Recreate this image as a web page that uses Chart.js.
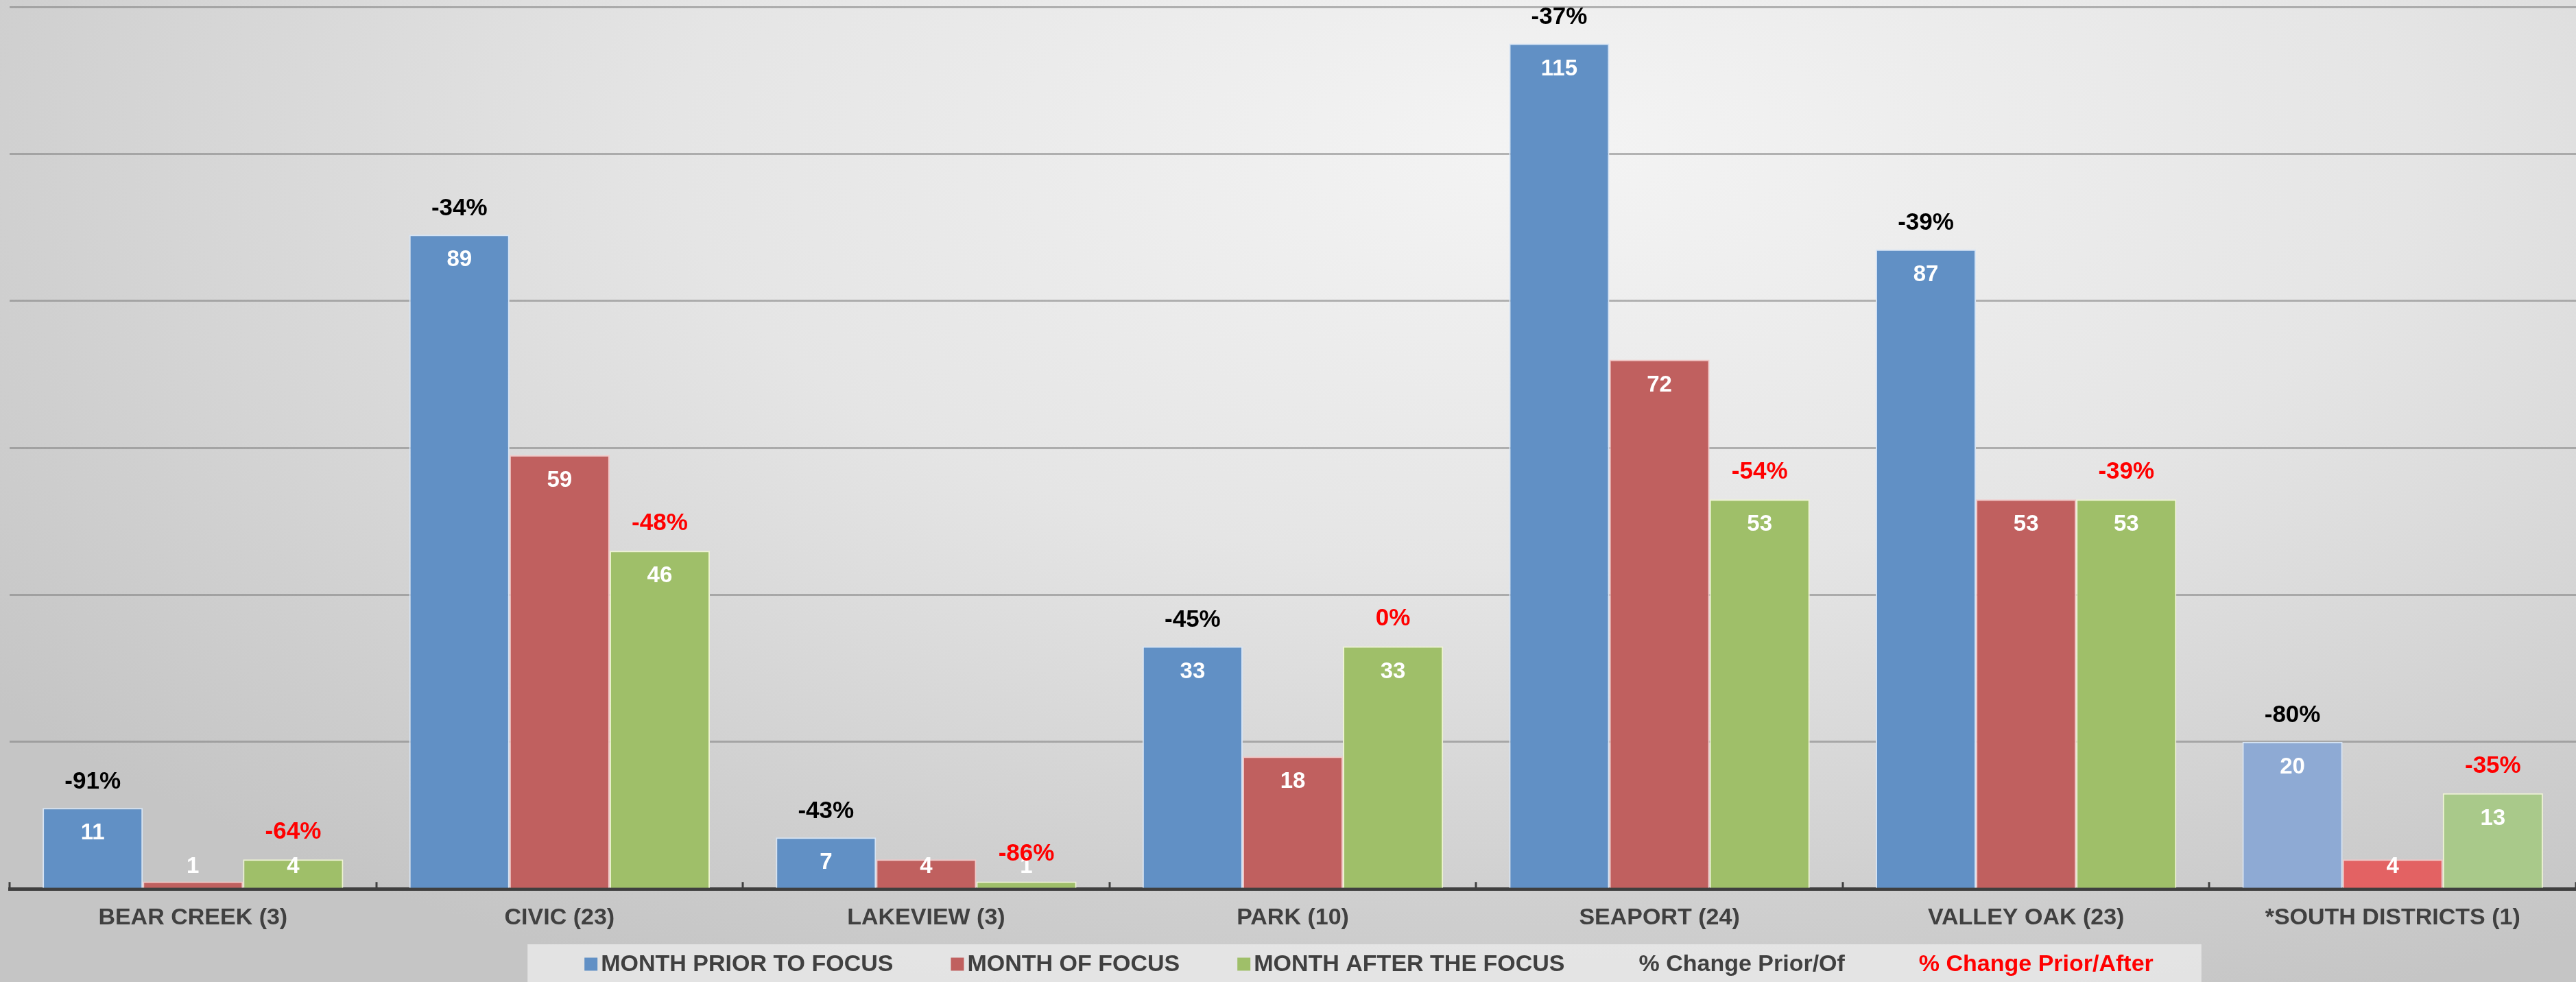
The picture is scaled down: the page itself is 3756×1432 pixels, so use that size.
<!DOCTYPE html>
<html lang="en">
<head>
    <meta charset="UTF-8">
    <title>Month of Focus Comparison</title>
    <style>
        html, body {
            margin: 0;
            padding: 0;
        }

        body {
            width: 3756px;
            height: 1432px;
            overflow: hidden;
            background: radial-gradient(ellipse 75% 95% at 60% 15%, #f4f4f4 0%, #e5e5e5 45%, #d0d0d0 80%, #c5c5c5 100%);
            font-family: 'Liberation Sans', Arial, sans-serif;
        }

        .chart-box {
            position: relative;
            width: 3756px;
            height: 1432px;
        }
    </style>
</head>
<body>
    <div class="chart-box">
        <canvas id="focusChart"></canvas>
    </div>

<script src="https://cdn.jsdelivr.net/npm/chart.js"></script>
<script>
    // data
    const districts = ['BEAR CREEK (3)', 'CIVIC (23)', 'LAKEVIEW (3)', 'PARK (10)', 'SEAPORT (24)', 'VALLEY OAK (23)', '*SOUTH DISTRICTS (1)'];
    const monthPrior = [11, 89, 7, 33, 115, 87, 20];
    const monthOf = [1, 59, 4, 18, 72, 53, 4];
    const monthAfter = [4, 46, 1, 33, 53, 53, 13];
    const changePriorOf = [-91, -34, -43, -45, -37, -39, -80];
    const changePriorAfter = [-64, -48, -86, 0, -54, -39, -35];
    const yTicks = [0, 20, 40, 60, 80, 100, 120];

    const FONT = '"Liberation Sans", Arial, sans-serif';

    // last group (south districts) is drawn in lighter shades
    const blueFill = ['#6190c5', '#6190c5', '#6190c5', '#6190c5', '#6190c5', '#6190c5', '#8eaad4'];
    const redFill = ['#c0605f', '#c0605f', '#c0605f', '#c0605f', '#c0605f', '#c0605f', '#e36263'];
    const greenFill = ['#9fbf69', '#9fbf69', '#9fbf69', '#9fbf69', '#9fbf69', '#9fbf69', '#a9c98a'];

    const legendItems = [
        { text: 'MONTH PRIOR TO FOCUS', box: '#6190c5', color: '#404040' },
        { text: 'MONTH OF FOCUS', box: '#c0605f', color: '#404040' },
        { text: 'MONTH AFTER THE FOCUS', box: '#9fbf69', color: '#404040' },
        { text: '% Change Prior/Of', box: null, color: '#404040' },
        { text: '% Change Prior/After', box: null, color: '#ff0000' }
    ];

    // white value labels inside the bars + percent labels above
    const barLabels = {
        id: 'barLabels',
        afterDatasetsDraw(chart) {
            const ctx = chart.ctx;
            const bottom = chart.chartArea.bottom;
            ctx.save();
            ctx.textAlign = 'center';
            ctx.textBaseline = 'middle';
            ctx.font = 'bold 33px ' + FONT;
            ctx.fillStyle = '#ffffff';
            chart.data.datasets.forEach((ds, di) => {
                chart.getDatasetMeta(di).data.forEach((bar, i) => {
                    const y = Math.min(bar.y + 37, bottom - 32);
                    ctx.fillText(String(ds.data[i]), bar.x, y);
                });
            });

            ctx.font = 'bold 35px ' + FONT;
            const prior = chart.getDatasetMeta(0).data;
            const after = chart.getDatasetMeta(2).data;
            ctx.fillStyle = '#000000';
            changePriorOf.forEach((v, i) => {
                ctx.fillText(v + '%', prior[i].x, prior[i].y - 38);
            });
            ctx.fillStyle = '#ff0000';
            changePriorAfter.forEach((v, i) => {
                ctx.fillText(v + '%', after[i].x, after[i].y - 40);
            });
            ctx.restore();
        }
    };

    // small tick marks pointing up between categories
    const tickMarks = {
        id: 'tickMarks',
        afterDraw(chart) {
            const ctx = chart.ctx;
            const xs = chart.scales.x;
            const bottom = chart.chartArea.bottom;
            ctx.save();
            ctx.strokeStyle = '#404040';
            ctx.lineWidth = 3;
            for (let i = 0; i <= districts.length; i++) {
                const px = Math.round(xs.getPixelForValue(i - 0.5));
                ctx.beginPath();
                ctx.moveTo(px, bottom);
                ctx.lineTo(px, bottom - 10);
                ctx.stroke();
            }
            ctx.restore();
        }
    };

    // legend strip at the bottom
    const bottomLegend = {
        id: 'bottomLegend',
        afterDraw(chart) {
            const ctx = chart.ctx;
            const boxSize = 19, boxGap = 5, itemGap = 84;
            const cy = chart.height - 26;
            ctx.save();
            ctx.font = 'bold 34px ' + FONT;
            ctx.textBaseline = 'middle';
            ctx.textAlign = 'left';
            const widths = legendItems.map(it => ctx.measureText(it.text).width);
            let total = 0;
            widths.forEach((w, i) => { total += boxSize + boxGap + w + (i ? itemGap : 0); });
            let x = chart.width / 2 + 118 - total / 2;

            ctx.fillStyle = 'rgba(236, 236, 236, 0.75)';
            ctx.fillRect(x - 83, cy - 29, total + 83 + 70, chart.height - cy + 29);

            legendItems.forEach((it, i) => {
                if (it.box) {
                    ctx.fillStyle = it.box;
                    ctx.fillRect(x, cy - boxSize / 2, boxSize, boxSize);
                }
                ctx.fillStyle = it.color;
                ctx.fillText(it.text, x + boxSize + boxGap, cy + 1);
                x += boxSize + boxGap + widths[i] + itemGap;
            });
            ctx.restore();
        }
    };

    const ctx = document.getElementById('focusChart').getContext('2d');
    const focusChart = new Chart(ctx, {
        type: 'bar',
        data: {
            labels: districts,
            datasets: [
                {
                    label: 'MONTH PRIOR TO FOCUS',
                    data: monthPrior,
                    backgroundColor: blueFill,
                    borderColor: '#d6e4f5',
                    borderWidth: 2
                },
                {
                    label: 'MONTH OF FOCUS',
                    data: monthOf,
                    backgroundColor: redFill,
                    borderColor: '#f3c9c8',
                    borderWidth: 2
                },
                {
                    label: 'MONTH AFTER THE FOCUS',
                    data: monthAfter,
                    backgroundColor: greenFill,
                    borderColor: '#eef4d2',
                    borderWidth: 2
                }
            ]
        },
        options: {
            responsive: true,
            maintainAspectRatio: false,
            devicePixelRatio: 1,
            animation: false,
            layout: {
                padding: { left: 14, right: 0, top: 10, bottom: 51 }
            },
            datasets: {
                bar: {
                    categoryPercentage: 0.82,
                    barPercentage: 1.0
                }
            },
            plugins: {
                legend: { display: false },
                tooltip: { enabled: false },
                title: { display: false }
            },
            scales: {
                x: {
                    grid: { display: false, drawTicks: false },
                    border: { display: true, color: '#3f3f3f', width: 5 },
                    ticks: {
                        color: '#404040',
                        padding: 22,
                        font: { family: FONT, size: 34, weight: 'bold' },
                        maxRotation: 0,
                        autoSkip: false
                    }
                },
                y: {
                    min: yTicks[0],
                    max: yTicks[yTicks.length - 1],
                    afterBuildTicks(scale) {
                        scale.ticks = yTicks.map(v => ({ value: v }));
                    },
                    grid: { color: 'rgba(125, 125, 125, 0.55)', lineWidth: 3, drawTicks: false },
                    border: { display: false },
                    ticks: { display: false }
                }
            }
        },
        plugins: [barLabels, tickMarks, bottomLegend]
    });
</script>
</body>
</html>
